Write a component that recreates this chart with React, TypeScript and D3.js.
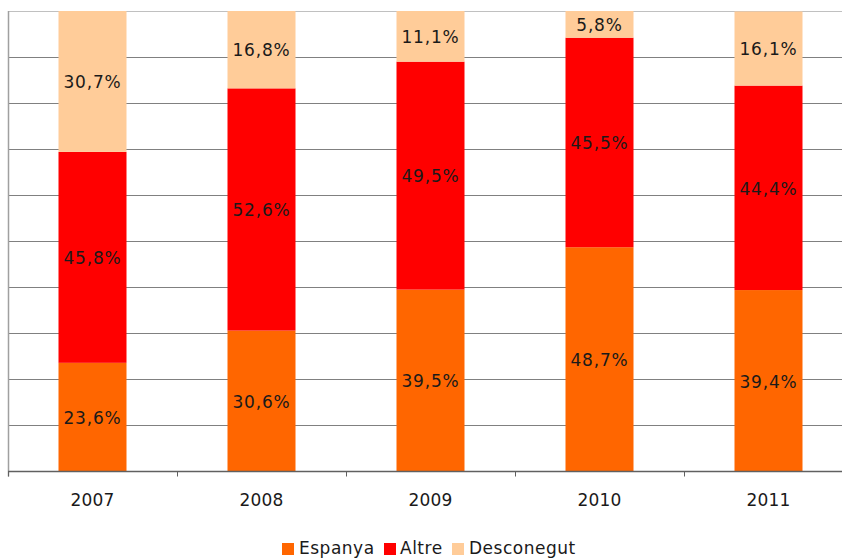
import React from "react";
import * as d3 from "d3";

const years = ["2007", "2008", "2009", "2010", "2011"];
const espanya = [23.6, 30.6, 39.5, 48.7, 39.4];
const altre = [45.8, 52.6, 49.5, 45.5, 44.4];
const desconegut = [30.7, 16.8, 11.1, 5.8, 16.1];
const seriesNames = ["Espanya", "Altre", "Desconegut"];
const seriesColors = ["#FF6600", "#FF0000", "#FFCC99"];
const gridTicks = [0, 10, 20, 30, 40, 50, 60, 70, 80, 90, 100];

const W = 842;
const H = 558;
const left = 8;
const top = 11;
const bottom = 471.5;
const catW = 169;
const font = "'DejaVu Sans', Verdana, sans-serif";

export default function App() {
  const x = d3
    .scaleBand<string>()
    .domain(years)
    .range([left, left + catW * years.length])
    .paddingInner(0)
    .paddingOuter(0);
  const y = d3.scaleLinear().domain([0, 100]).range([bottom, top]).clamp(true);
  const barW = 68;

  const rows = years.map((yr, i) => ({
    year: yr,
    Espanya: espanya[i],
    Altre: altre[i],
    Desconegut: desconegut[i],
  }));
  const stack = d3.stack<any>().keys(seriesNames)(rows);

  const legendItems = [
    { name: "Espanya", sx: 282, tx: 299 },
    { name: "Altre", sx: 384, tx: 400 },
    { name: "Desconegut", sx: 452, tx: 469 },
  ];

  return (
    <svg
      width={W}
      height={H}
      style={{ position: "absolute", left: 0, top: 0, background: "#fff" }}
    >
      {gridTicks.slice(1).map((t) => (
        <line
          key={t}
          x1={left}
          x2={W}
          y1={Math.round(y(t)) + 0.5}
          y2={Math.round(y(t)) + 0.5}
          stroke={t === 100 ? "#c0c0c0" : "#808080"}
          strokeWidth={1}
        />
      ))}
      {stack.map((s, si) =>
        s.map((d, i) => {
          const x0 = x(years[i])! + x.bandwidth() / 2 - barW / 2;
          const y0 = y(d[1]);
          const y1 = y(d[0]);
          return (
            <g key={`${si}-${i}`}>
              <rect x={x0} y={y0} width={barW} height={y1 - y0} fill={seriesColors[si]} />
              <text
                x={x0 + barW / 2}
                y={(y0 + y1) / 2}
                dy="0.4em"
                textAnchor="middle"
                fontFamily={font}
                fontSize={17}
                letterSpacing={0.8}
                fill="#1a1a1a"
              >
                {(d[1] - d[0]).toFixed(1).replace(".", ",") + "%"}
              </text>
            </g>
          );
        })
      )}
      <line x1={left + 0.5} x2={left + 0.5} y1={top} y2={bottom + 5} stroke="#a0a0a0" strokeWidth={1.5} />
      <line x1={left} x2={W} y1={bottom} y2={bottom} stroke="#606060" strokeWidth={1.5} />
      {d3.range(years.length + 1).map((i) => (
        <line
          key={i}
          x1={left + i * catW + 0.5}
          x2={left + i * catW + 0.5}
          y1={bottom}
          y2={bottom + 5}
          stroke="#606060"
          strokeWidth={1}
        />
      ))}
      {years.map((yr) => (
        <text
          key={yr}
          x={x(yr)! + x.bandwidth() / 2}
          y={506}
          textAnchor="middle"
          fontFamily={font}
          fontSize={17}
          letterSpacing={0.2}
          fill="#1a1a1a"
        >
          {yr}
        </text>
      ))}
      {legendItems.map((it, i) => (
        <g key={it.name}>
          <rect x={it.sx} y={543} width={12} height={12} fill={seriesColors[i]} />
          <text x={it.tx} y={554} fontFamily={font} fontSize={17} letterSpacing={0.5} fill="#1a1a1a">
            {it.name}
          </text>
        </g>
      ))}
    </svg>
  );
}
